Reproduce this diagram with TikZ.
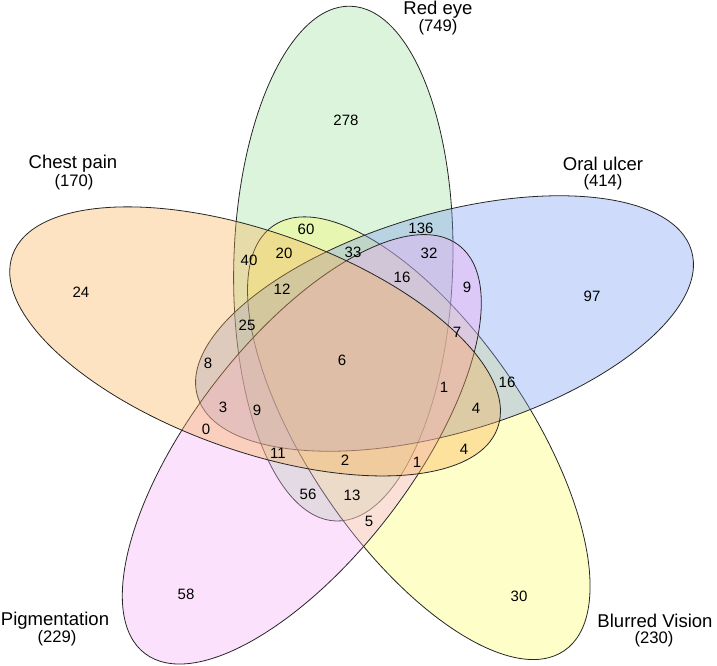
\documentclass[tikz,border=0pt]{standalone}
\usepackage{fontspec}
\setmainfont{Liberation Sans}
\definecolor{cgreen}{RGB}{155,224,155}
\definecolor{cyellow}{RGB}{252,252,98}
\definecolor{cblue}{RGB}{118,152,241}
\definecolor{cpink}{RGB}{244,169,244}
\definecolor{corange}{RGB}{249,175,78}
\begin{document}
\begin{tikzpicture}[x=0.75pt,y=-0.75pt,
  setshape/.style={draw=black!85, line width=0.6pt, fill opacity=0.35},
  num/.style={font=\fontsize{11.25}{13}\selectfont, inner sep=0pt},
  setname/.style={font=\fontsize{13.9}{16}\selectfont, inner sep=0pt},
  setcount/.style={font=\fontsize{12.5}{15}\selectfont, inner sep=0pt}]
\useasboundingbox (0,0) rectangle (717,665);
% ellipses (fill + outline, drawn in sequence)
\path[setshape, fill=cgreen, rotate around={88.4:(343.3,263.6)}] (343.3,263.6) ellipse [x radius=257.5, y radius=109.5];
\path[setshape, fill=cyellow, rotate around={304.4:(418.8,438.2)}] (418.8,438.2) ellipse [x radius=257.5, y radius=109.5];
\path[setshape, fill=cblue, rotate around={16.4:(444.5,323.5)}] (444.5,323.5) ellipse [x radius=257.5, y radius=109.5];
\path[setshape, fill=cpink, rotate around={232.4:(301.8,449.3)}] (301.8,449.3) ellipse [x radius=257.5, y radius=109.5];
\path[setshape, fill=corange, rotate around={160.4:(255.1,341.4)}] (255.1,341.4) ellipse [x radius=257.5, y radius=109.5];
% set names
\node[setname] (nred) at (438,9.5) {Red eye};
\node[setcount] (cred) at (438,27) {(749)};
\node[setname] (nchest) at (73,164) {Chest pain};
\node[setcount] (cchest) at (74,182) {(170)};
\node[setname] (noral) at (603,164) {Oral ulcer};
\node[setcount] (coral) at (603,182) {(414)};
\node[setname] (npig) at (55,621) {Pigmentation};
\node[setcount] (cpig) at (57,638) {(229)};
\node[setname] (nblur) at (655,621) {Blurred Vision};
\node[setcount] (cblur) at (654,639) {(230)};
% region counts
\node[num] (r1) at (346,120) {278};
\node[num] (r2) at (81,292) {24};
\node[num] (r3) at (592,296) {97};
\node[num] (r4) at (186,594) {58};
\node[num] (r5) at (519,596) {30};
\node[num] (r6) at (306,229) {60};
\node[num] (r7) at (421,228) {136};
\node[num] (r8) at (249,260) {40};
\node[num] (r9) at (284,253) {20};
\node[num] (r10) at (353,252) {33};
\node[num] (r11) at (429,253) {32};
\node[num] (r12) at (402,277) {16};
\node[num] (r13) at (467,287) {9};
\node[num] (r14) at (282,289) {12};
\node[num] (r15) at (247,325) {25};
\node[num] (r16) at (457,332) {7};
\node[num] (r17) at (208,363) {8};
\node[num] (r18) at (342,360) {6};
\node[num] (r19) at (507,382) {16};
\node[num] (r20) at (444,387) {1};
\node[num] (r21) at (476,408) {4};
\node[num] (r22) at (223,407) {3};
\node[num] (r23) at (257,410) {9};
\node[num] (r24) at (206,429) {0};
\node[num] (r25) at (278,453) {11};
\node[num] (r26) at (345,460) {2};
\node[num] (r27) at (417,462) {1};
\node[num] (r28) at (464,449) {4};
\node[num] (r29) at (308,494) {56};
\node[num] (r30) at (352,495) {13};
\node[num] (r31) at (369,521) {5};
\end{tikzpicture}
\end{document}
